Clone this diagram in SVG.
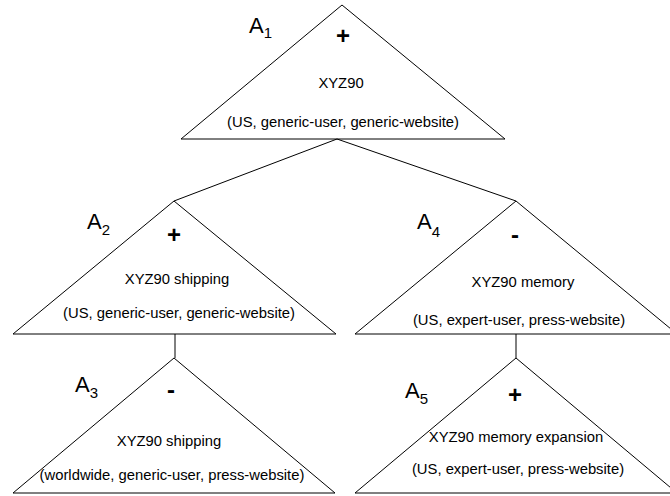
<svg xmlns="http://www.w3.org/2000/svg" width="670" height="496" viewBox="0 0 670 496">
<style>
.tri{fill:none;stroke:#000;stroke-width:1}
.conn{fill:none;stroke:#000;stroke-width:1}
text{font-family:"Liberation Sans",Arial,sans-serif;fill:#000}
.t{font-size:14.8px;text-anchor:middle}
.lab{font-size:22px}
.sub{font-size:15px}
.sign{font-size:24px;font-weight:bold;text-anchor:middle}
</style>
<rect width="670" height="496" fill="#fff"/>
<g id="connectors">
<line class="conn" x1="337" y1="139" x2="174" y2="201"/>
<line class="conn" x1="337" y1="139" x2="516" y2="201"/>
<line class="conn" x1="175" y1="334" x2="175" y2="358"/>
<line class="conn" x1="516" y1="334" x2="516" y2="358"/>
</g>
<g id="A1">
<polygon class="tri" points="342,5 181,139 505,139"/>
<text class="lab" x="249" y="33">A<tspan class="sub" dy="5">1</tspan></text>
<text class="sign" x="343" y="44">+</text>
<text class="t" x="341" y="88">XYZ90</text>
<text class="t" x="343" y="127">(US, generic-user, generic-website)</text>
</g>
<g id="A2">
<polygon class="tri" points="174,201 13,334 336,334"/>
<text class="lab" x="87" y="229">A<tspan class="sub" dy="6">2</tspan></text>
<text class="sign" x="174" y="243">+</text>
<text class="t" x="177" y="284">XYZ90 shipping</text>
<text class="t" x="179" y="318">(US, generic-user, generic-website)</text>
</g>
<g id="A4">
<polygon class="tri" points="516,201 355,334 677,334"/>
<text class="lab" x="417" y="229">A<tspan class="sub" dy="8">4</tspan></text>
<text class="sign" x="515" y="243">-</text>
<text class="t" x="523" y="287">XYZ90 memory</text>
<text class="t" x="519" y="325">(US, expert-user, press-website)</text>
</g>
<g id="A3">
<polygon class="tri" points="174,358 13,493 335,493"/>
<text class="lab" x="75" y="392">A<tspan class="sub" dy="6">3</tspan></text>
<text class="sign" x="171" y="398">-</text>
<text class="t" x="169" y="446">XYZ90 shipping</text>
<text class="t" x="172" y="480">(worldwide, generic-user, press-website)</text>
</g>
<g id="A5">
<polygon class="tri" points="516,358 355,493 677,493"/>
<text class="lab" x="405" y="398">A<tspan class="sub" dy="6">5</tspan></text>
<text class="sign" x="515" y="403">+</text>
<text class="t" x="516" y="442">XYZ90 memory expansion</text>
<text class="t" x="518" y="474">(US, expert-user, press-website)</text>
</g>
</svg>
